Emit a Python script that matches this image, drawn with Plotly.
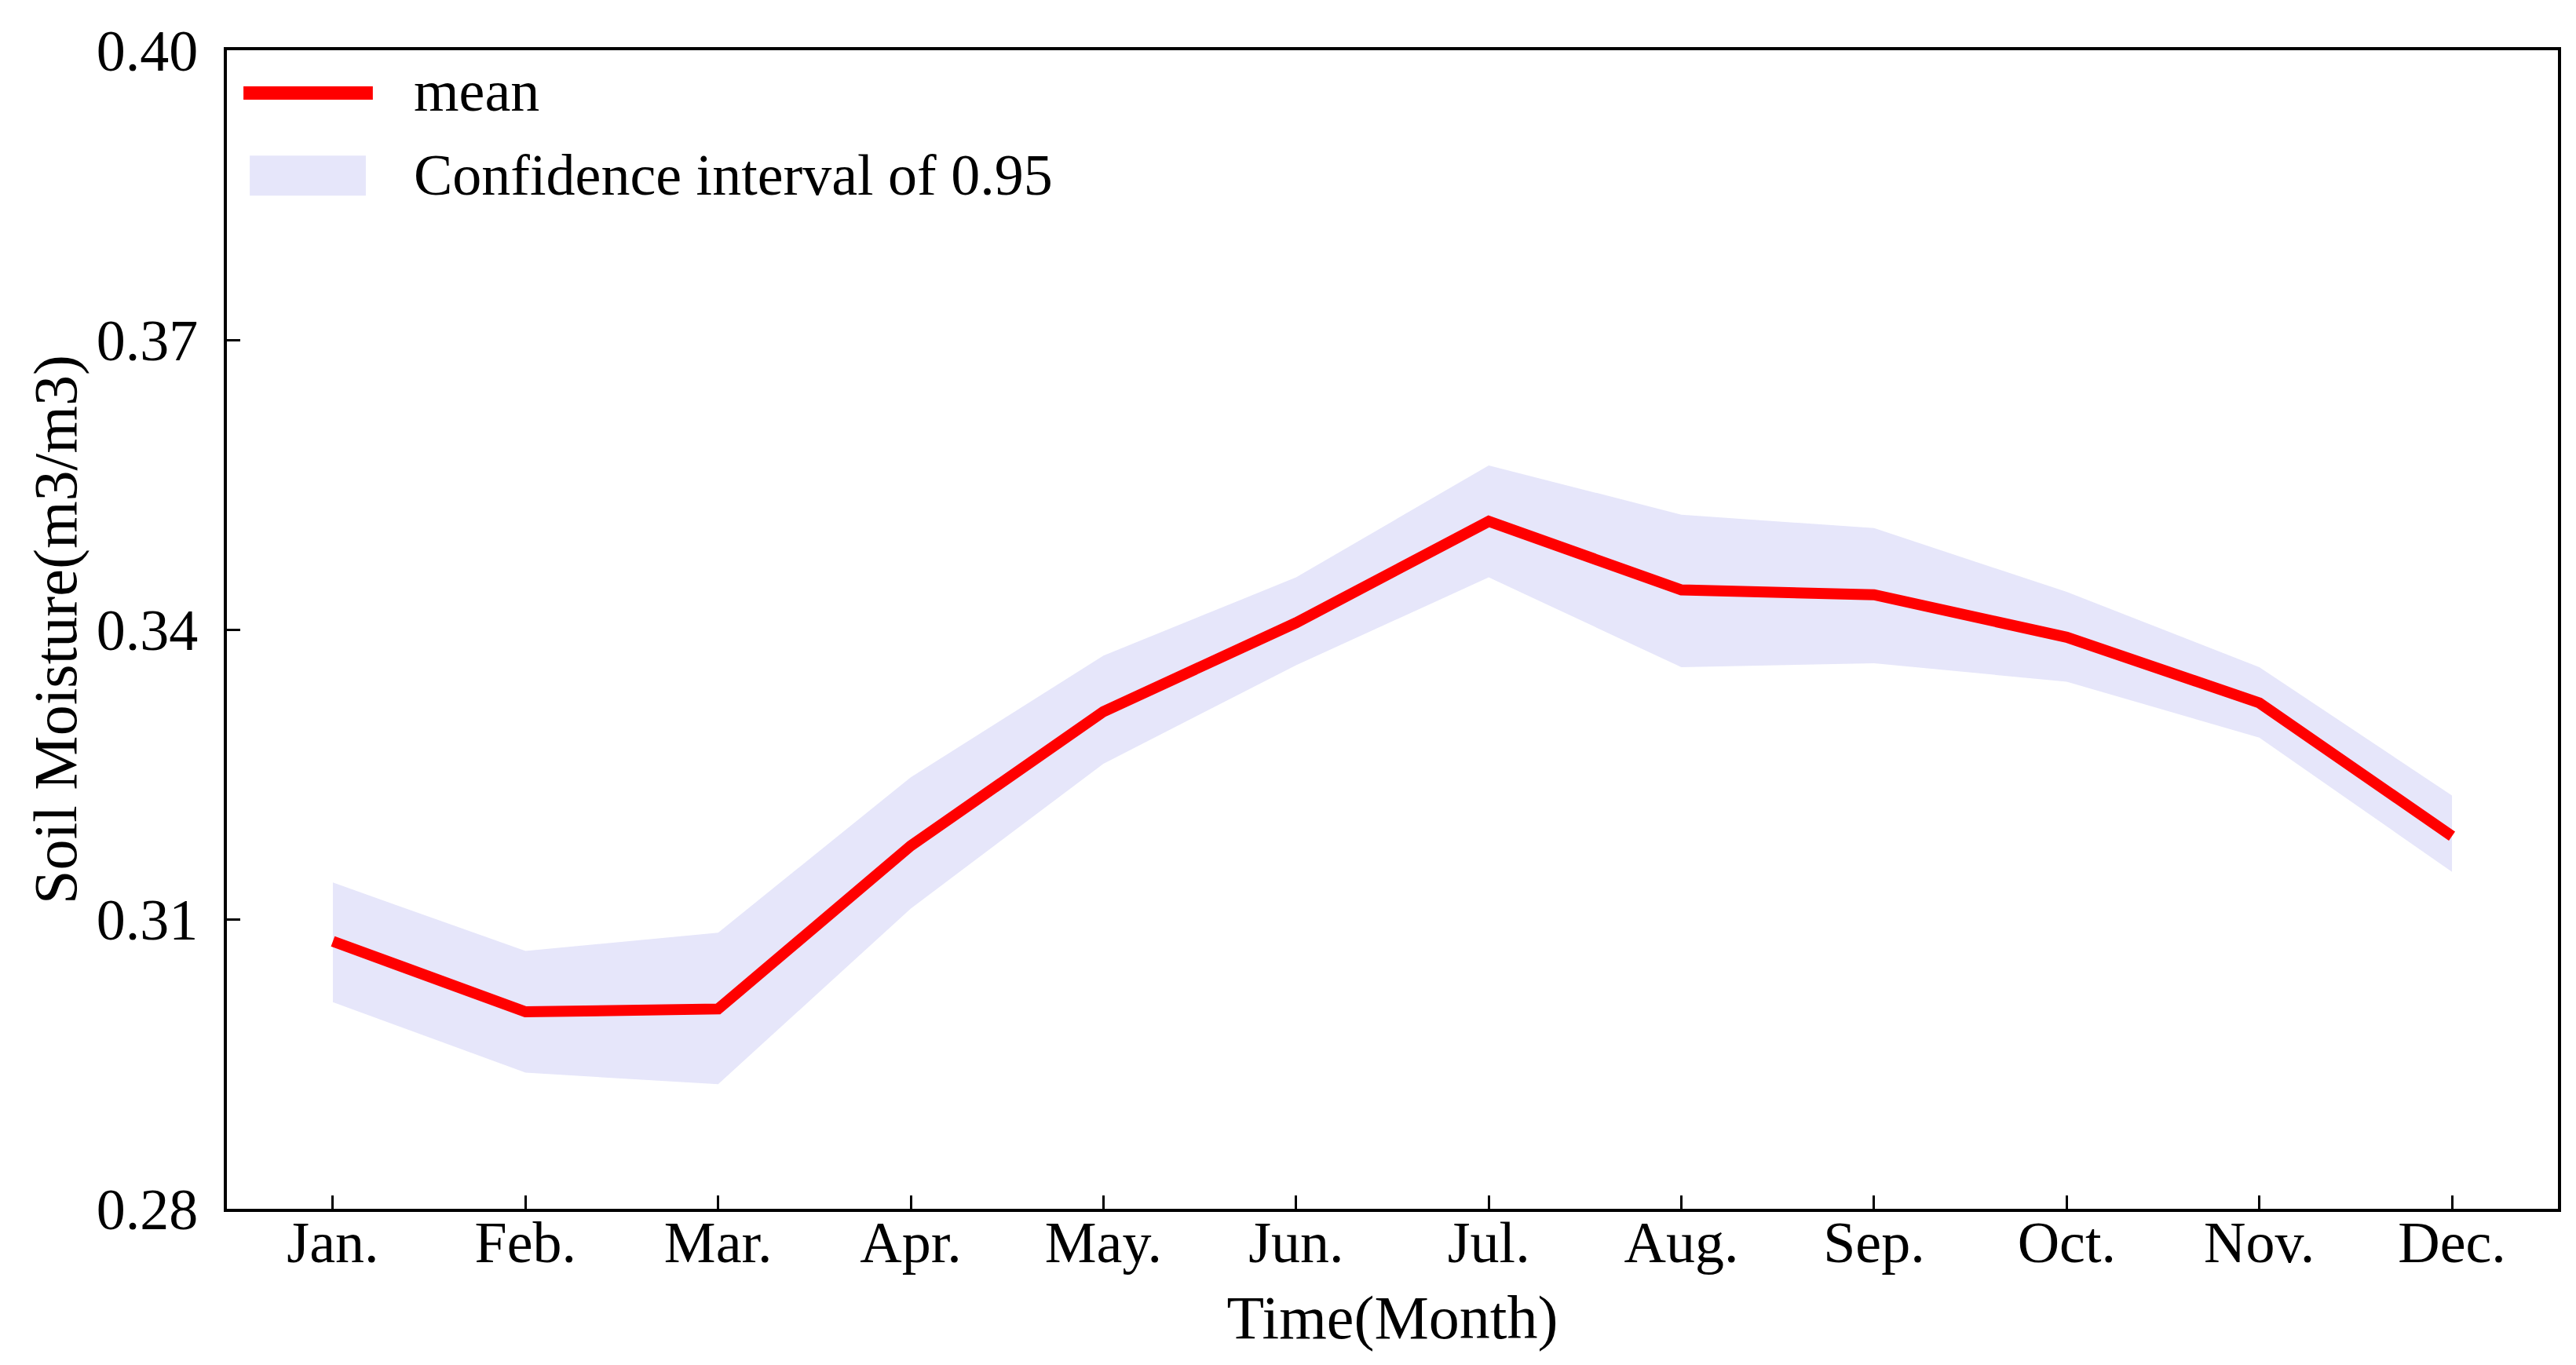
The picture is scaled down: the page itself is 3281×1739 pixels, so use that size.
import plotly.graph_objects as go

months = ["Jan.", "Feb.", "Mar.", "Apr.", "May.", "Jun.", "Jul.", "Aug.", "Sep.", "Oct.", "Nov.", "Dec."]
mean_sm = [0.3077, 0.3004, 0.3007, 0.3176, 0.3315, 0.3407, 0.3512, 0.3441, 0.3436, 0.3392, 0.3324, 0.3186]
upper_ci = [0.3138, 0.3067, 0.3086, 0.3247, 0.3373, 0.3454, 0.3570, 0.3519, 0.3505, 0.3439, 0.3361, 0.3228]
lower_ci = [0.3014, 0.2941, 0.2929, 0.3111, 0.3261, 0.3363, 0.3454, 0.3361, 0.3365, 0.3346, 0.3288, 0.3149]
y_ticks = [0.28, 0.31, 0.34, 0.37, 0.40]
legend_labels = ["mean", "Confidence interval of 0.95"]

x_idx = list(range(len(months)))
FONT = "Liberation Serif, Times New Roman, serif"
RED = "#ff0000"
LAVENDER = "#e6e6fa"

fig = go.Figure()
fig.add_trace(go.Scatter(x=x_idx, y=lower_ci, mode="lines", line=dict(width=0, color=LAVENDER),
                         showlegend=False, hoverinfo="skip"))
fig.add_trace(go.Scatter(x=x_idx, y=upper_ci, mode="lines", line=dict(width=0, color=LAVENDER),
                         fill="tonexty", fillcolor=LAVENDER, name=legend_labels[1],
                         showlegend=False))
fig.add_trace(go.Scatter(x=x_idx, y=mean_sm, mode="lines", line=dict(width=14, color=RED),
                         name=legend_labels[0], showlegend=False))

# legend drawn inside the top-left corner of the plot area
fig.add_shape(type="line", xref="paper", yref="paper", x0=0.0071, x1=0.0626, y0=0.9630, y1=0.9630,
              line=dict(color=RED, width=17))
fig.add_shape(type="rect", xref="paper", yref="paper", x0=0.0098, x1=0.0596, y0=0.8745, y1=0.9091,
              fillcolor=LAVENDER, line=dict(width=0))
fig.add_annotation(xref="paper", yref="paper", x=0.0795, y=0.9650, xanchor="left", yanchor="middle",
                   text=legend_labels[0], showarrow=False, font=dict(family=FONT, size=74, color="black"))
fig.add_annotation(xref="paper", yref="paper", x=0.0795, y=0.8920, xanchor="left", yanchor="middle",
                   text=legend_labels[1], showarrow=False, font=dict(family=FONT, size=74, color="black"))

fig.update_layout(
    width=3281, height=1739,
    margin=dict(l=281, r=31, t=56, b=207, autoexpand=False),
    paper_bgcolor="white", plot_bgcolor="white",
    font=dict(family=FONT, size=74, color="black"),
    showlegend=False,
    xaxis=dict(range=[-0.55, 11.55], tickmode="array", tickvals=x_idx, ticktext=months,
               ticks="inside", ticklen=17, tickwidth=3, tickcolor="black",
               showline=True, linecolor="black", linewidth=4, mirror=True,
               showgrid=False, zeroline=False, ticklabelstandoff=-25,
               tickfont=dict(family=FONT, size=74),
               title=dict(text="Time(Month)", font=dict(family=FONT, size=78), standoff=29)),
    yaxis=dict(range=[0.28, 0.40], tickmode="array", tickvals=y_ticks,
               ticktext=[f"{v:.2f}" for v in y_ticks],
               ticks="inside", ticklen=17, tickwidth=3, tickcolor="black",
               showline=True, linecolor="black", linewidth=4, mirror=True,
               showgrid=False, zeroline=False, ticklabelstandoff=18,
               tickfont=dict(family=FONT, size=74),
               title=dict(text="Soil Moisture(m3/m3)", font=dict(family=FONT, size=78), standoff=0)),
)

fig.write_html("out.html")
